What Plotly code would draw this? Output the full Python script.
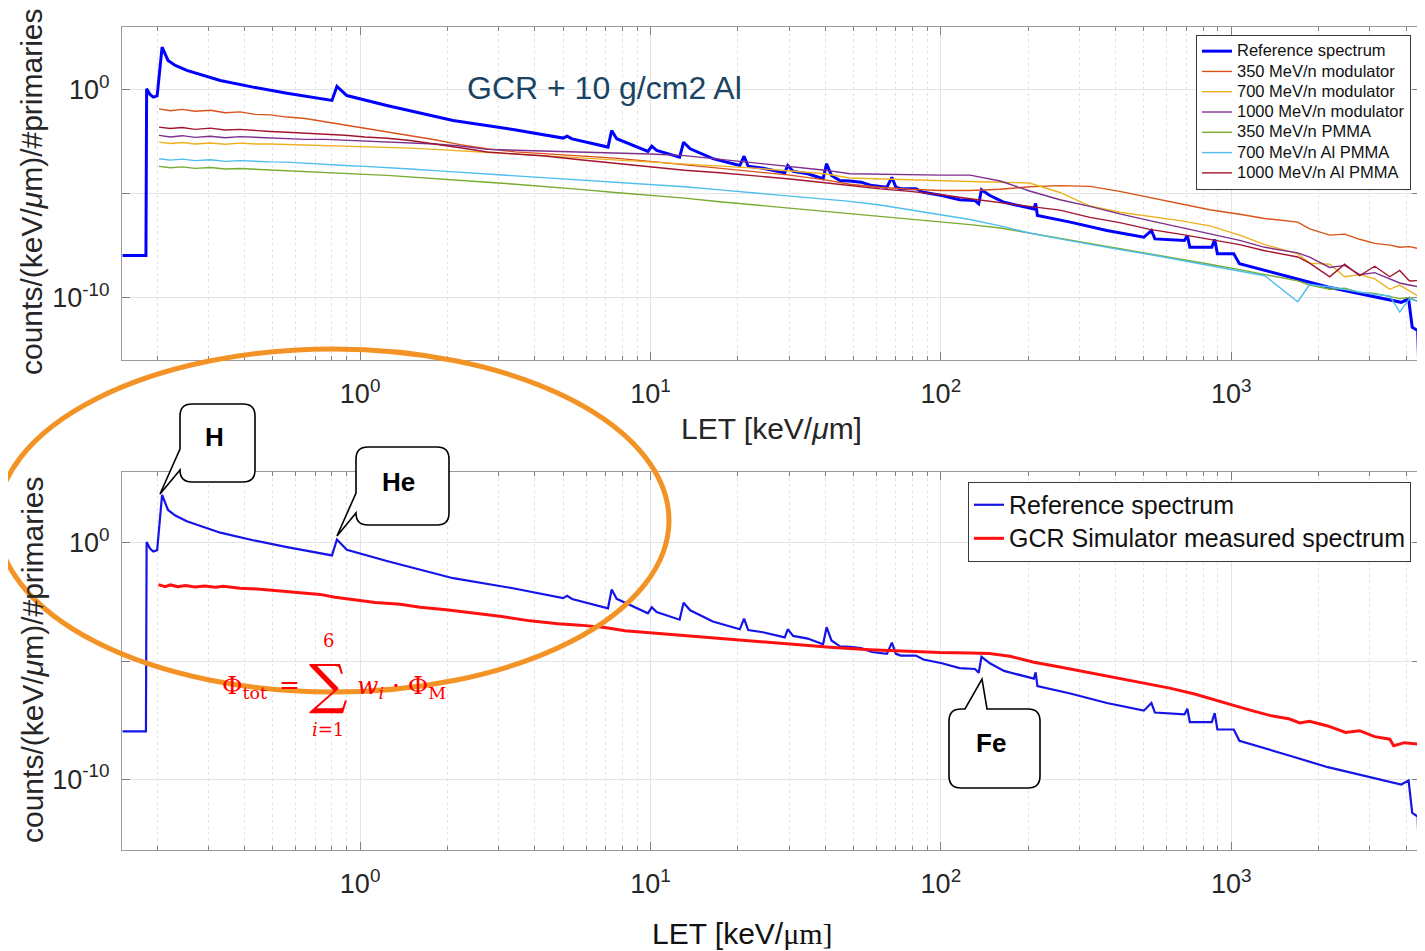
import plotly.graph_objects as go

# page body has an 8px margin: the figure is made slightly smaller and
# all layout positions are measured in window pixels then shifted.
OFF = 8
W, H = 1425 - OFF, 951 - OFF

# ---------------- data ----------------
ref_let = [0.152, 0.183, 0.184, 0.189, 0.194, 0.200, 0.208, 0.218, 0.231, 0.253,
           0.330, 0.428, 0.560, 0.80, 0.832, 0.90, 1.236, 2.09, 3.36, 5.0,
           5.16, 5.37, 7.14, 7.35, 7.65, 9.8, 10.1, 10.5, 12.6, 13.0,
           13.7, 16.4, 20.3, 21.0, 21.7, 24.4, 29.0, 29.7, 31.0, 34.8,
           39.3, 40.4, 42.0, 44.9, 48.6, 53.1, 57.9, 65.2, 67.8, 70.0,
           72.8, 82.0, 87.1, 100.8, 116, 131, 135, 138, 147.5, 165,
           209, 212, 215, 279, 373, 500, 531, 546, 690, 706,
           720, 857, 877, 896, 1020, 1067, 1602, 2150, 3850, 4080,
           4200, 4385, 4440]
ref_counts = [1.05e-8, 1.05e-8, 1.08, 0.575, 0.427, 0.487, 108, 24.7, 14.3, 8.2,
              2.7, 1.29, 0.66, 0.296, 1.39, 0.51, 0.17, 0.032, 0.012, 4.6e-3,
              5.7e-3, 4.2e-3, 1.7e-3, 1.07e-2, 4.27e-3, 1.05e-3, 1.87e-3, 1.17e-3, 5.6e-4, 2.9e-3,
              1.4e-3, 4.7e-4, 2.2e-4, 6.2e-4, 2.05e-4, 1.65e-4, 1.0e-4, 2.2e-4, 1.15e-4, 8.9e-5,
              5.1e-5, 2.7e-4, 7.4e-5, 4.2e-5, 4.0e-5, 3.5e-5, 2.4e-5, 2.0e-5, 6.0e-5, 2.0e-5,
              1.7e-5, 1.7e-5, 1.15e-5, 8.0e-6, 5.0e-6, 4.6e-6, 3.2e-6, 1.5e-5, 8.0e-6, 3.8e-6,
              1.8e-6, 3.3e-6, 8.7e-7, 4.2e-7, 1.66e-7, 7.9e-8, 1.66e-7, 6.6e-8, 5.5e-8, 9.5e-8,
              2.6e-8, 2.6e-8, 6.2e-8, 1.26e-8, 1.26e-8, 4.2e-9, 9.5e-10, 3.2e-10, 5.9e-11, 8.7e-11,
              3.7e-12, 2.6e-12, 1e-14]

sim_let = [0.203, 0.222, 0.244, 0.270, 0.305, 0.343, 0.386, 0.435, 0.490, 0.561,
           0.647, 0.758, 0.888, 1.04, 1.24, 1.49, 1.81, 2.21, 2.74, 3.42,
           4.33, 5.72, 7.55, 9.96, 13.1, 17.3, 22.9, 30.2, 39.9, 48.6,
           61.7, 78.2, 99.3, 126, 160, 202, 257, 326, 413, 524,
           665, 843, 1069, 1304, 1694, 1862, 2183, 2458, 2767, 3119,
           3516, 3802, 4111, 4457]

mod350 = [0.117, 0.0955, 0.110, 0.0891, 0.100, 0.0759, 0.0832, 0.0631, 0.060, 0.047,
          0.040, 0.0282, 0.0191, 0.0132, 0.0089, 0.0063, 0.0038, 0.00224, 0.00141, 0.001,
          8.3e-4, 6.6e-4, 5.0e-4, 3.5e-4, 2.4e-4, 1.66e-4, 1.12e-4, 7.6e-5, 4.5e-5, 2.8e-5,
          2.0e-5, 1.6e-5, 1.4e-5, 1.4e-5, 1.6e-5, 2.1e-5, 2.4e-5, 2.2e-5, 1.26e-5, 6.3e-6,
          3.2e-6, 1.66e-6, 1.0e-6, 6.3e-7, 4.2e-7, 2.0e-7, 1.0e-7, 1.12e-7, 6.3e-8, 4.0e-8,
          3.3e-8, 2.6e-8, 2.8e-8, 2.2e-8]
mod700 = [0.00295, 0.00251, 0.00282, 0.0024, 0.00269, 0.00234, 0.00263, 0.0024, 0.0024, 0.00229,
          0.00219, 0.0020, 0.00191, 0.00182, 0.0017, 0.00151, 0.00132, 0.00112, 8.9e-4, 7.6e-4,
          6.3e-4, 5.0e-4, 4.0e-4, 3.2e-4, 2.6e-4, 2.1e-4, 1.66e-4, 1.2e-4, 8.9e-5, 5.6e-5,
          5.0e-5, 4.5e-5, 4.2e-5, 3.8e-5, 3.5e-5, 3.2e-5, 1.12e-5, 2.5e-6, 1.26e-6, 7.9e-7,
          5.0e-7, 2.8e-7, 1.0e-7, 3.5e-8, 1.26e-8, 4.5e-9, 4.0e-9, 1.0e-9, 1.26e-9, 7.9e-10,
          2.5e-10, 4.0e-10, 2.0e-10, 1.05e-10]
mod1000 = [0.0062, 0.0052, 0.0060, 0.0050, 0.0056, 0.0048, 0.0054, 0.0050, 0.0046, 0.0044,
           0.0040, 0.0040, 0.0036, 0.0034, 0.0030, 0.00275, 0.0024, 0.0019, 0.00132, 0.0012,
           0.0011, 0.0010, 8.9e-4, 7.9e-4, 6.6e-4, 4.5e-4, 3.0e-4, 2.0e-4, 1.32e-4, 8.9e-5,
           8.3e-5, 7.9e-5, 7.6e-5, 7.6e-5, 4.0e-5, 1.32e-5, 5.0e-6, 2.4e-6, 1.05e-6, 5.0e-7,
           2.4e-7, 1.12e-7, 5.6e-8, 2.6e-8, 1.41e-8, 8.7e-9, 2.8e-9, 3.5e-9, 1.26e-9, 1.58e-9,
           7.9e-10, 5.0e-10, 4.0e-10, 3.2e-10]
pmma350 = [2.0e-4, 1.74e-4, 1.9e-4, 1.62e-4, 1.78e-4, 1.5e-4, 1.58e-4, 1.45e-4, 1.38e-4, 1.29e-4,
           1.17e-4, 1.05e-4, 9.3e-5, 8.3e-5, 7.4e-5, 6.3e-5, 5.2e-5, 4.4e-5, 3.5e-5, 2.8e-5,
           2.2e-5, 1.58e-5, 1.12e-5, 8.3e-6, 6.0e-6, 4.0e-6, 2.8e-6, 2.0e-6, 1.41e-6, 1.05e-6,
           7.9e-7, 5.6e-7, 4.2e-7, 3.2e-7, 2.2e-7, 1.26e-7, 7.1e-8, 3.8e-8, 2.2e-8, 1.32e-8,
           7.1e-9, 4.0e-9, 2.2e-9, 1.26e-9, 6.3e-10, 4.0e-10, 2.5e-10, 2.8e-10, 1.78e-10, 1.58e-10,
           1.12e-10, 8.9e-11, 1.0e-10, 5.9e-11]
alpmma700 = [4.7e-4, 4.0e-4, 4.5e-4, 3.8e-4, 4.2e-4, 3.5e-4, 3.8e-4, 3.5e-4, 3.3e-4, 3.2e-4,
             2.8e-4, 2.5e-4, 2.2e-4, 2.0e-4, 1.78e-4, 1.5e-4, 1.26e-4, 1.05e-4, 8.5e-5, 7.1e-5,
             5.6e-5, 4.5e-5, 3.5e-5, 2.8e-5, 2.1e-5, 1.5e-5, 1.07e-5, 7.6e-6, 5.4e-6, 4.2e-6,
             2.8e-6, 1.66e-6, 1.0e-6, 5.6e-7, 2.8e-7, 1.26e-7, 6.6e-8, 3.5e-8, 2.0e-8, 1.17e-8,
             6.3e-9, 3.5e-9, 1.9e-9, 1.12e-9, 6.3e-11, 4.2e-10, 3.2e-10, 2.4e-10, 1.78e-10, 1.41e-10,
             1.2e-10, 2.0e-11, 8.9e-11, 5.9e-11]
alpmma1000 = [0.0155, 0.0132, 0.0148, 0.0120, 0.0138, 0.0112, 0.0120, 0.0105, 0.00955, 0.0087,
              0.0079, 0.0071, 0.0063, 0.0052, 0.0045, 0.0035, 0.0024, 0.00158, 9.8e-4, 7.9e-4,
              6.3e-4, 4.2e-4, 2.8e-4, 2.0e-4, 1.32e-4, 1.0e-4, 7.1e-5, 5.0e-5, 3.3e-5, 2.4e-5,
              1.66e-5, 1.26e-5, 8.9e-6, 5.6e-6, 3.5e-6, 2.4e-6, 1.58e-6, 7.1e-7, 4.0e-7, 1.9e-7,
              1.12e-7, 6.3e-8, 3.5e-8, 1.78e-8, 8.9e-9, 4.5e-9, 1.0e-9, 4.0e-9, 1.12e-9, 3.2e-9,
              1.0e-9, 2.0e-9, 6.3e-10, 6.6e-10]

gcr_let = [0.202, 0.213, 0.222, 0.236, 0.250, 0.270, 0.292, 0.317, 0.338, 0.386,
           0.453, 0.531, 0.622, 0.728, 0.820, 0.961, 1.127, 1.374, 1.61, 1.98,
           2.39, 3.03, 3.85, 4.80, 5.72, 6.97, 8.17, 9.96, 11.7, 14.8,
           17.3, 20.3, 25.8, 32.7, 41.5, 57.0, 72.2, 99.3, 126, 147,
           173, 209, 257, 326, 413, 500, 614, 748, 899, 1069,
           1195, 1357, 1589, 1721, 1862, 2148, 2477, 2767, 3119, 3516,
           3626, 3954, 4457]
gcr_counts = [0.017, 0.0141, 0.0166, 0.0138, 0.0158, 0.0135, 0.0151, 0.0132, 0.0145, 0.0120,
              0.0110, 0.0093, 0.0079, 0.0066, 0.0050, 0.0040, 0.0030, 0.0025, 0.0019, 0.00148,
              0.00112, 7.9e-4, 5.0e-4, 3.8e-4, 3.3e-4, 2.6e-4, 1.9e-4, 1.55e-4, 1.32e-4, 1.05e-4,
              8.9e-5, 7.6e-5, 6.0e-5, 4.8e-5, 3.8e-5, 3.0e-5, 2.6e-5, 2.3e-5, 2.2e-5, 2.1e-5,
              1.58e-5, 8.9e-6, 5.6e-6, 3.2e-6, 1.78e-6, 1.2e-6, 7.1e-7, 4.0e-7, 2.0e-7, 1.12e-7,
              7.6e-8, 5.0e-8, 3.5e-8, 2.4e-8, 2.8e-8, 1.78e-8, 9.5e-9, 1.12e-8, 6.3e-9, 4.9e-9,
              2.6e-9, 3.5e-9, 3.0e-9]

x_tick_vals = [1, 10, 100, 1000]
x_tick_text = ["10<sup>0</sup>", "10<sup>1</sup>", "10<sup>2</sup>", "10<sup>3</sup>"]
y_tick_vals = [1e-10, 1e-5, 1]
y_tick_text = ["10<sup>-10</sup>", "", "10<sup>0</sup>"]

top_series = [
    ("350 MeV/n modulator", mod350, "#D95319"),
    ("700 MeV/n modulator", mod700, "#EDB120"),
    ("1000 MeV/n modulator", mod1000, "#7E2F8E"),
    ("350 MeV/n PMMA", pmma350, "#77AC30"),
    ("700 MeV/n Al PMMA", alpmma700, "#4DBEEE"),
    ("1000 MeV/n Al PMMA", alpmma1000, "#A2142F"),
]

# ---------------- helpers ----------------
def px(x):
    return (x - OFF) / W


def py(y):
    return 1 - (y - OFF) / H


FONT = "Liberation Sans"


def sized(name, size):
    return f"<span style='font-size:{size}px'>{name}</span>"


fig = go.Figure()

fig.add_trace(go.Scatter(x=ref_let, y=ref_counts, mode="lines", name=sized("Reference spectrum", 16.5),
                         line=dict(color="#0000FF", width=3), xaxis="x", yaxis="y", legend="legend"))
for name, vals, col in top_series:
    fig.add_trace(go.Scatter(x=sim_let, y=vals, mode="lines", name=sized(name, 16.5),
                             line=dict(color=col, width=1.4), xaxis="x", yaxis="y", legend="legend"))

fig.add_trace(go.Scatter(x=ref_let, y=ref_counts, mode="lines", name=sized("Reference spectrum", 25),
                         line=dict(color="#1414E6", width=2.2), xaxis="x2", yaxis="y2", legend="legend2"))
fig.add_trace(go.Scatter(x=gcr_let, y=gcr_counts, mode="lines",
                         name=sized("GCR Simulator measured spectrum", 25),
                         line=dict(color="#FF1010", width=3), xaxis="x2", yaxis="y2", legend="legend2"))

minor_x = [k * 10.0 ** d for d in range(-1, 4) for k in range(2, 10)]

xax = dict(type="log", range=[-0.82, 3.65], domain=[px(122), px(1420)],
           tickvals=x_tick_vals, ticktext=x_tick_text,
           ticks="inside", ticklen=8, tickcolor="#808080", tickwidth=1,
           showline=True, linecolor="#9b9b9b", linewidth=1, mirror="allticks",
           showgrid=True, gridcolor="#e4e4e4", gridwidth=1, zeroline=False,
           tickfont=dict(family=FONT, size=27, color="#262626"),
           ticklabelstandoff=10,
           minor=dict(tickvals=minor_x, ticks="inside", ticklen=4, tickcolor="#808080",
                      showgrid=True, gridcolor="#e2e2e2", griddash="dot", gridwidth=1))
yax = dict(type="log", range=[-13, 3],
           tickvals=y_tick_vals, ticktext=y_tick_text,
           ticks="inside", ticklen=8, tickcolor="#808080", tickwidth=1,
           showline=True, linecolor="#9b9b9b", linewidth=1, mirror="allticks",
           showgrid=True, gridcolor="#e4e4e4", gridwidth=1, zeroline=False,
           tickfont=dict(family=FONT, size=27, color="#262626"),
           ticklabelstandoff=6)

fig.update_layout(
    width=W, height=H, autosize=False,
    margin=dict(l=0, r=0, t=0, b=0),
    paper_bgcolor="white", plot_bgcolor="white",
    xaxis=dict(xax, anchor="y"),
    yaxis=dict(yax, domain=[py(360), py(27)], anchor="x"),
    xaxis2=dict(xax, anchor="y2"),
    yaxis2=dict(yax, domain=[py(850), py(472)], anchor="x2"),
    legend=dict(x=px(1196), y=py(35), xanchor="left", yanchor="top",
                bgcolor="white", bordercolor="#3a3a3a", borderwidth=1,
                font=dict(family=FONT, size=13.3, color="#111"), tracegroupgap=0,
                itemwidth=30),
    legend2=dict(x=px(968), y=py(482), xanchor="left", yanchor="top",
                 bgcolor="white", bordercolor="#3a3a3a", borderwidth=1,
                 font=dict(family=FONT, size=23.5, color="#111"), tracegroupgap=0,
                 itemwidth=30),
    showlegend=True,
)

ann = []


def add_text(x, y, text, size, color="#262626", family=FONT, angle=0, **kw):
    ann.append(dict(x=px(x), y=py(y), xref="paper", yref="paper", text=text, showarrow=False,
                    textangle=angle, font=dict(family=family, size=size, color=color),
                    xanchor="center", yanchor="middle", **kw))


# axis titles
add_text(771, 428, "LET [keV/<i>μ</i>m]", 30)
add_text(742, 933, "LET [keV/<span style='font-family:Liberation Serif'>μm]</span>", 30, color="#111")
add_text(32, 192, "counts/(keV/<i>μ</i>m)/#primaries", 30, angle=-90)
add_text(32, 660, "counts/(keV/<i>μ</i>m)/#primaries", 30, angle=-90)

# panel label
add_text(604, 88, "GCR + 10 g/cm2 Al", 32, color="#1a4463")

# callout labels
add_text(214, 437, "<b>H</b>", 26, color="#000")
add_text(398, 482, "<b>He</b>", 26, color="#000")
add_text(991, 743, "<b>Fe</b>", 26, color="#000")

# formula
SERIF = "DejaVu Serif"
add_text(244, 687, "Φ<sub>tot</sub>", 25, color="#FF0000", family=SERIF)
add_text(289, 684, "=", 25, color="#FF0000", family=SERIF)
add_text(328, 684, "∑", 54, color="#FF0000", family=SERIF)
add_text(328, 640, "6", 18, color="#FF0000", family=SERIF)
add_text(328, 729, "<i>i</i>=1", 18, color="#FF0000", family=SERIF)
add_text(401, 687, "<i>w</i><sub><i>i</i></sub> · Φ<sub>M</sub>", 25, color="#FF0000", family=SERIF)

fig.update_layout(annotations=ann)

shapes = []


def P(x, y):
    return f"{px(x):.5f},{py(y):.5f}"


def callout(x0, y0, x1, y1, r, pointer):
    """pointer: ('left', ya, yb, tipx, tipy) or ('top', xa, xb, tipx, tipy)"""
    side, a, b, tx, ty = pointer
    d = f"M {P(x0 + r, y0)} "
    if side == "top":
        d += f"L {P(a, y0)} L {P(tx, ty)} L {P(b, y0)} "
    d += f"L {P(x1 - r, y0)} Q {P(x1, y0)} {P(x1, y0 + r)} "
    d += f"L {P(x1, y1 - r)} Q {P(x1, y1)} {P(x1 - r, y1)} "
    d += f"L {P(x0 + r, y1)} Q {P(x0, y1)} {P(x0, y1 - r)} "
    if side == "left":
        d += f"L {P(x0, b)} L {P(tx, ty)} L {P(x0, a)} "
    d += f"L {P(x0, y0 + r)} Q {P(x0, y0)} {P(x0 + r, y0)} Z"
    shapes.append(dict(type="path", path=d, xref="paper", yref="paper",
                       line=dict(color="#000", width=1.6), fillcolor="white", layer="above"))


callout(180, 404, 255, 482, 12, ("left", 449, 470, 160, 494))
callout(356, 447, 449, 525, 12, ("left", 493, 513, 337, 536))
callout(949, 709, 1040, 788, 12, ("top", 965, 987, 982, 679))

# orange ellipse highlight
shapes.append(dict(type="circle", xref="paper", yref="paper",
                   x0=px(-3), x1=px(669), y0=py(692), y1=py(349),
                   line=dict(color="#F39325", width=5), fillcolor="rgba(0,0,0,0)", layer="above"))

fig.update_layout(shapes=shapes)

fig.write_html("out.html")
